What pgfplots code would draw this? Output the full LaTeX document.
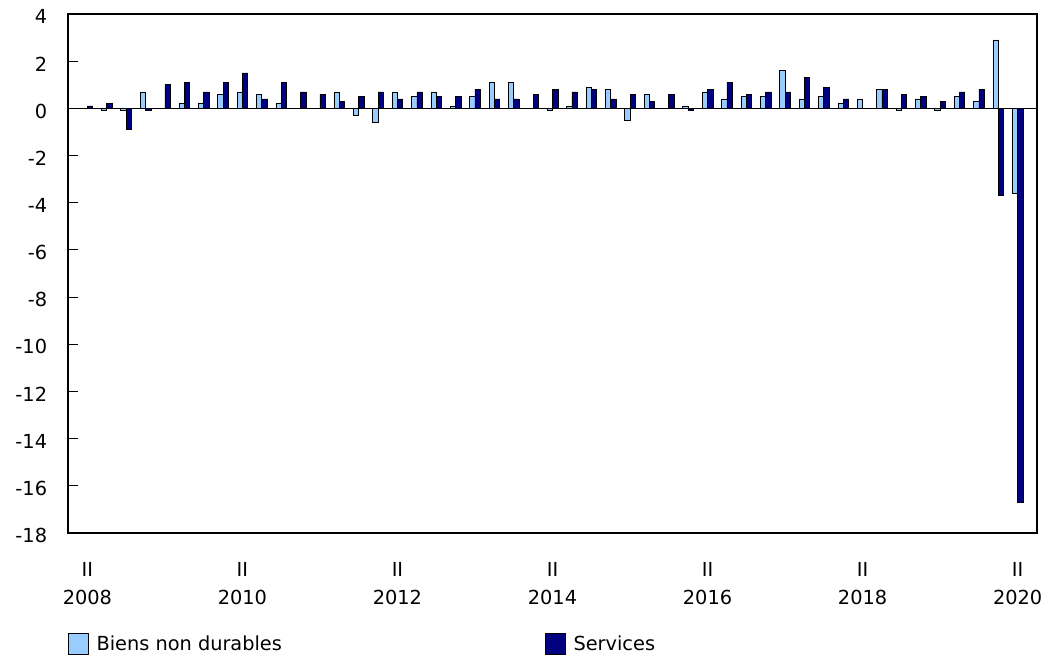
\documentclass[border=0pt]{standalone}
\usepackage{pgfplots}
\pgfplotsset{compat=1.18}
\usepackage{pgfplotstable}
\usepackage{fontspec}
\setmainfont{DejaVu Sans}

\definecolor{lightbar}{RGB}{153,204,255}
\definecolor{darkbar}{RGB}{0,0,128}

% quarter index (0 = 2008 Q2), biens non durables, services
\pgfplotstableread{
q bnd srv
0 0.0 0.1
1 -0.1 0.2
2 -0.1 -0.9
3 0.7 -0.1
4 0.0 1.0
5 0.2 1.1
6 0.2 0.7
7 0.6 1.1
8 0.7 1.5
9 0.6 0.4
10 0.2 1.1
11 0.0 0.7
12 0.0 0.6
13 0.7 0.3
14 -0.3 0.5
15 -0.6 0.7
16 0.7 0.4
17 0.5 0.7
18 0.7 0.5
19 0.1 0.5
20 0.5 0.8
21 1.1 0.4
22 1.1 0.4
23 0.0 0.6
24 -0.1 0.8
25 0.1 0.7
26 0.9 0.8
27 0.8 0.4
28 -0.5 0.6
29 0.6 0.3
30 0.0 0.6
31 0.1 -0.1
32 0.7 0.8
33 0.4 1.1
34 0.5 0.6
35 0.5 0.7
36 1.6 0.7
37 0.4 1.3
38 0.5 0.9
39 0.2 0.4
40 0.4 0.0
41 0.8 0.8
42 -0.1 0.6
43 0.4 0.5
44 -0.1 0.3
45 0.5 0.7
46 0.3 0.8
47 2.9 -3.7
48 -3.6 -16.7
}\data

\begin{document}
\begin{tikzpicture}
\begin{axis}[
  width=726.75pt, height=389.25pt, scale only axis,
  xmin=-1, xmax=49, ymin=-18, ymax=4,
  ybar=0pt, bar width=4pt,
  axis line style={line width=1pt},
  ytick={-18,-16,...,4}, ytick pos=left,
  tick align=inside, major tick length=7.5pt,
  tick style={black, line width=0.8pt},
  xtick={0,8,...,48},
  xticklabels={II\\2008,II\\2010,II\\2012,II\\2014,II\\2016,II\\2018,II\\2020},
  major x tick style={draw=none},
  /pgf/number format/assume math mode=true,
  yticklabel style={font=\fontsize{14.5}{17}\selectfont, anchor=east, inner sep=0pt, xshift=-15.5pt, yshift=-2pt},
  xticklabel style={font=\fontsize{14.5}{21}\selectfont, anchor=north, align=center, inner sep=0pt, yshift=-21.5pt},
  legend columns=2,
  legend style={at={(0,0)}, anchor=west, yshift=-83pt, draw=none, fill=none, inner sep=0pt,
    font=\fontsize{14.5}{17}\selectfont,
    /tikz/every odd column/.append style={column sep=3.5pt},
    /tikz/every even column/.append style={column sep=195.5pt}},
  legend image code/.code={\draw[#1, draw=black, line width=0.7pt] (0pt,-7.75pt) rectangle (15pt,7.75pt);},
]
\addplot[fill=lightbar, draw=black, line width=0.5pt] table[x=q, y=bnd] {\data};
\addlegendentry{Biens non durables}
\addplot[fill=darkbar, draw=black, line width=0.5pt] table[x=q, y=srv] {\data};
\addlegendentry{Services}
\draw[black, line width=0.9pt] (axis cs:-1,0) -- (axis cs:49,0);
\end{axis}
\path (-51pt,-92.25pt) rectangle (732.75pt,399.75pt);
\end{tikzpicture}
\end{document}
